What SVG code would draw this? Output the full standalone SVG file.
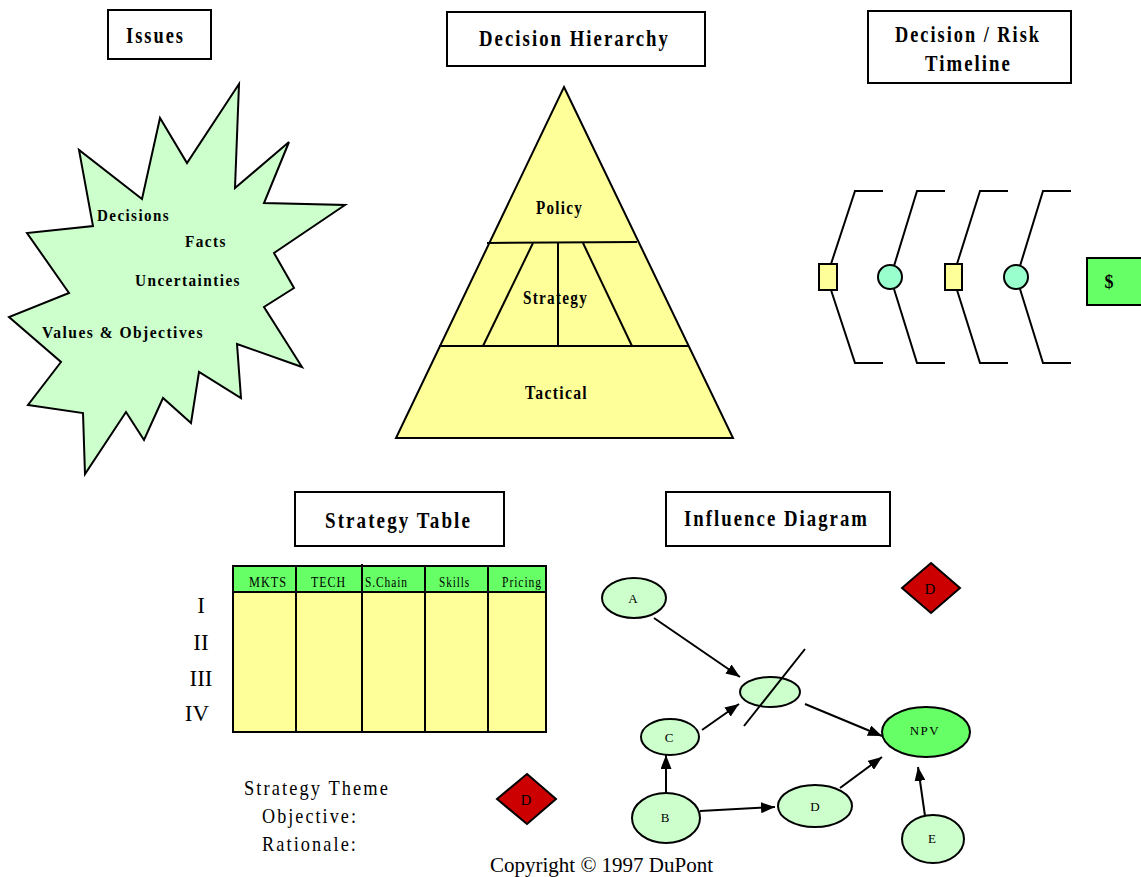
<svg xmlns="http://www.w3.org/2000/svg" width="1141" height="877" viewBox="0 0 1141 877">
<style>
.box{fill:#fff;stroke:#000;stroke-width:2}
.ttl{font-family:"Liberation Serif",serif;font-weight:bold;font-size:23px;letter-spacing:2.5px}
.bt{font-family:"Liberation Serif",serif;font-weight:bold;font-size:16px;letter-spacing:1.5px}
.pt{font-family:"Liberation Serif",serif;font-weight:bold;font-size:18px;letter-spacing:1.5px}
.hd{font-family:"Liberation Serif",serif;font-size:15px;letter-spacing:1.2px}
.rn{font-family:"Liberation Serif",serif;font-size:23px;text-anchor:middle}
.st{font-family:"Liberation Serif",serif;font-size:22px;letter-spacing:2.5px}
.nl{font-family:"Liberation Serif",serif;font-size:13px;text-anchor:middle}
.dl{font-family:"Liberation Serif",serif;font-size:15px;text-anchor:middle}
.ln{fill:none;stroke:#000;stroke-width:2}
.el{fill:#ccffcc;stroke:#000;stroke-width:2}
.dia{fill:#cc0000;stroke:#000;stroke-width:2}
</style>
<defs>
<marker id="ah" viewBox="0 0 14 11" refX="14" refY="5.5" markerWidth="14" markerHeight="11" markerUnits="userSpaceOnUse" orient="auto">
<path d="M0,0 L14,5.5 L0,11 z" fill="#000"/>
</marker>
</defs>
<rect width="1141" height="877" fill="#fff"/>

<g id="issues-title">
<rect class="box" x="108" y="10" width="103" height="49"/>
<text class="ttl" x="126" y="43" textLength="59" lengthAdjust="spacingAndGlyphs">Issues</text>
</g>
<g id="hierarchy-title">
<rect class="box" x="447" y="12" width="258" height="54"/>
<text class="ttl" x="479" y="46" textLength="191" lengthAdjust="spacingAndGlyphs">Decision Hierarchy</text>
</g>
<g id="timeline-title">
<rect class="box" x="868" y="11" width="203" height="72"/>
<text class="ttl" x="895" y="42" textLength="146" lengthAdjust="spacingAndGlyphs">Decision / Risk</text>
<text class="ttl" x="925" y="71" textLength="87" lengthAdjust="spacingAndGlyphs">Timeline</text>
</g>
<g id="strategy-table-title">
<rect class="box" x="295" y="492" width="209" height="54"/>
<text class="ttl" x="325" y="528" textLength="147" lengthAdjust="spacingAndGlyphs">Strategy Table</text>
</g>
<g id="influence-title">
<rect class="box" x="666" y="492" width="224" height="54"/>
<text class="ttl" x="684" y="526" textLength="185" lengthAdjust="spacingAndGlyphs">Influence Diagram</text>
</g>

<g id="issues-burst">
<polygon fill="#ccffcc" stroke="#000" stroke-width="2" points="239,84 235,188 289,142 264,203 345,205 274,253 294,288 264,307 302,367 237,344 241,398 199,372 191,423 163,398 144,440 126,412 85,474 83,413 28,405 61,362 9,317 69,293 27,233 93,226 79,150 142,199 160,118 187,163"/>
<text class="bt" x="97" y="221" textLength="73" lengthAdjust="spacingAndGlyphs">Decisions</text>
<text class="bt" x="185" y="247" textLength="42" lengthAdjust="spacingAndGlyphs">Facts</text>
<text class="bt" x="135" y="286" textLength="106" lengthAdjust="spacingAndGlyphs">Uncertainties</text>
<text class="bt" x="42" y="338" textLength="162" lengthAdjust="spacingAndGlyphs">Values &amp; Objectives</text>
</g>

<g id="hierarchy-pyramid">
<polygon fill="#ffff99" stroke="#000" stroke-width="2" points="564,87 733,438 396,438"/>
<line class="ln" x1="487" y1="243" x2="637" y2="242"/>
<line class="ln" x1="439" y1="346" x2="688" y2="346"/>
<line class="ln" x1="533" y1="243" x2="483" y2="346"/>
<line class="ln" x1="558" y1="243" x2="558" y2="346"/>
<line class="ln" x1="583" y1="243" x2="632" y2="346"/>
<text class="pt" x="536" y="214" textLength="47" lengthAdjust="spacingAndGlyphs">Policy</text>
<text class="pt" x="523" y="304" textLength="65" lengthAdjust="spacingAndGlyphs">Strategy</text>
<text class="pt" x="525" y="399" textLength="63" lengthAdjust="spacingAndGlyphs">Tactical</text>
</g>

<g id="timeline">
<polyline class="ln" points="883,191 855,191 831,264"/>
<polyline class="ln" points="831,290 855,363 883,363"/>
<rect x="819" y="264" width="18" height="26" fill="#ffff99" stroke="#000" stroke-width="2"/>
<polyline class="ln" points="945,191 917,191 894,266"/>
<polyline class="ln" points="894,289 917,363 945,363"/>
<circle cx="890" cy="277" r="12" fill="#99ffcc" stroke="#000" stroke-width="2"/>
<polyline class="ln" points="1008,191 980,191 957,264"/>
<polyline class="ln" points="957,290 980,363 1008,363"/>
<rect x="945" y="264" width="17" height="26" fill="#ffff99" stroke="#000" stroke-width="2"/>
<polyline class="ln" points="1071,191 1043,191 1020,266"/>
<polyline class="ln" points="1020,289 1043,363 1071,363"/>
<circle cx="1016" cy="277" r="12" fill="#99ffcc" stroke="#000" stroke-width="2"/>
<rect x="1087" y="258" width="56" height="47" fill="#66ff66" stroke="#000" stroke-width="2"/>
<text x="1109" y="288" font-family="Liberation Serif,serif" font-weight="bold" font-size="18" text-anchor="middle">$</text>
</g>

<g id="strategy-table">
<rect x="233" y="566" width="313" height="26" fill="#66ff66" stroke="#000" stroke-width="2"/>
<rect x="233" y="592" width="313" height="140" fill="#ffff99" stroke="#000" stroke-width="2"/>
<line class="ln" x1="296" y1="566" x2="296" y2="732"/>
<line class="ln" x1="362" y1="564" x2="362" y2="732"/>
<line class="ln" x1="425" y1="566" x2="425" y2="732"/>
<line class="ln" x1="488" y1="566" x2="488" y2="732"/>
<text class="hd" x="249" y="587" textLength="38" lengthAdjust="spacingAndGlyphs">MKTS</text>
<text class="hd" x="311" y="587" textLength="35" lengthAdjust="spacingAndGlyphs">TECH</text>
<text class="hd" x="365" y="587" textLength="43" lengthAdjust="spacingAndGlyphs">S.Chain</text>
<text class="hd" x="439" y="587" textLength="31" lengthAdjust="spacingAndGlyphs">Skills</text>
<text class="hd" x="502" y="587" textLength="40" lengthAdjust="spacingAndGlyphs">Pricing</text>
<text class="rn" x="201" y="613">I</text>
<text class="rn" x="201" y="650">II</text>
<text class="rn" x="201" y="686">III</text>
<text class="rn" x="197" y="721">IV</text>
<text class="st" x="244" y="795" textLength="146" lengthAdjust="spacingAndGlyphs">Strategy Theme</text>
<text class="st" x="262" y="823" textLength="96" lengthAdjust="spacingAndGlyphs">Objective:</text>
<text class="st" x="262" y="851" textLength="96" lengthAdjust="spacingAndGlyphs">Rationale:</text>
</g>

<g id="decision-diamond-left">
<polygon class="dia" points="527,774 556,799 527,824 497,799"/>
<text class="dl" x="526" y="805">D</text>
</g>

<g id="decision-diamond-right">
<polygon class="dia" points="931,563 960,588 931,613 902,588"/>
<text class="dl" x="930" y="594">D</text>
</g>

<g id="node-A">
<ellipse class="el" cx="634" cy="598" rx="32" ry="20"/>
<text class="nl" x="633" y="603">A</text>
</g>
<g id="node-mid">
<ellipse class="el" cx="770" cy="692" rx="30" ry="15"/>
</g>
<g id="node-C">
<ellipse class="el" cx="670" cy="737" rx="29" ry="18"/>
<text class="nl" x="669" y="742">C</text>
</g>
<g id="node-NPV">
<ellipse cx="926" cy="732" rx="44" ry="25" fill="#66ff66" stroke="#000" stroke-width="2"/>
<text class="nl" x="925" y="735" letter-spacing="1.5">NPV</text>
</g>
<g id="node-B">
<ellipse class="el" cx="666" cy="818" rx="34" ry="25"/>
<text class="nl" x="665" y="822">B</text>
</g>
<g id="node-D">
<ellipse class="el" cx="815" cy="806" rx="37" ry="21"/>
<text class="nl" x="815" y="811">D</text>
</g>
<g id="node-E">
<ellipse class="el" cx="933" cy="839" rx="31" ry="24"/>
<text class="nl" x="932" y="843">E</text>
</g>

<g id="connectors">
<line class="ln" x1="654" y1="618" x2="740" y2="677" marker-end="url(#ah)"/>
<line class="ln" x1="702" y1="730" x2="739" y2="704" marker-end="url(#ah)"/>
<line class="ln" x1="805" y1="704" x2="882" y2="736" marker-end="url(#ah)"/>
<line class="ln" x1="666" y1="793" x2="666" y2="755" marker-end="url(#ah)"/>
<line class="ln" x1="700" y1="811" x2="775" y2="807" marker-end="url(#ah)"/>
<line class="ln" x1="840" y1="788" x2="882" y2="757" marker-end="url(#ah)"/>
<line class="ln" x1="925" y1="816" x2="918" y2="767" marker-end="url(#ah)"/>
<line class="ln" x1="805" y1="649" x2="744" y2="726"/>
</g>

<text x="490" y="872" font-family="Liberation Serif,serif" font-size="21">Copyright © 1997 DuPont</text>
</svg>
